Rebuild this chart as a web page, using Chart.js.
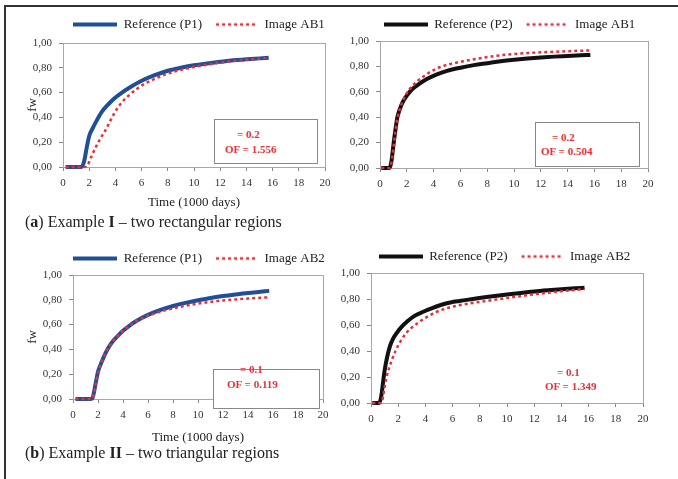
<!DOCTYPE html>
<html>
<head>
<meta charset="utf-8">
<script src="https://cdn.jsdelivr.net/npm/chart.js@4.4.0/dist/chart.umd.min.js"></script>
<style>
  body { margin: 0; width: 678px; height: 479px; background: #fff; position: relative; overflow: hidden; font-family: "Liberation Serif", serif; }
  .frame { position: absolute; left: 4px; top: 5px; width: 700px; height: 500px; border-left: 2px solid #333; border-top: 2px solid #333; }
  canvas { position: absolute; }
  .box { position: absolute; border: 1px solid #888; background: #fff; }
  .note { position: absolute; color: #e4323c; font-weight: bold; font-size: 11px; line-height: 12px; white-space: nowrap; }
  .caption { position: absolute; left: 25px; font-size: 16px; line-height: 18px; color: #222; white-space: nowrap; }
</style>
</head>
<body>
<div class="frame"></div>
<canvas id="chartA1" width="398" height="214" style="left:0;top:0"></canvas>
<canvas id="chartA2" width="339" height="190" style="left:340px;top:0"></canvas>
<canvas id="chartB1" width="398" height="217" style="left:0;top:232px"></canvas>
<canvas id="chartB2" width="329" height="200" style="left:340px;top:231px"></canvas>

<div class="box" style="left:214px;top:119px;width:102px;height:43px"></div>
<div class="note" style="left:237px;top:128px">= 0.2</div>
<div class="note" style="left:225px;top:143px">OF = 1.556</div>

<div class="box" style="left:535px;top:122px;width:103px;height:43px"></div>
<div class="note" style="left:552px;top:131px">= 0.2</div>
<div class="note" style="left:541px;top:145px">OF = 0.504</div>

<div class="box" style="left:213px;top:369px;width:105px;height:38px"></div>
<div class="note" style="left:240px;top:363px">= 0.1</div>
<div class="note" style="left:227px;top:378px">OF = 0.119</div>

<div class="note" style="left:557px;top:366px">= 0.1</div>
<div class="note" style="left:545px;top:380px">OF = 1.349</div>

<div class="caption" style="top:213px">(<b>a</b>) Example <b>I</b> – two rectangular regions</div>
<div class="caption" style="top:444px">(<b>b</b>) Example <b>II</b> – two triangular regions</div>

<script>
// ----- DATA -----
const xTickValues = [0, 2, 4, 6, 8, 10, 12, 14, 16, 18, 20];
const yTickValues = [0, 0.2, 0.4, 0.6, 0.8, 1.0];

// (a) left : Reference (P1) vs Image AB1
const timeRefA1 = [0.2, 0.6, 1.0, 1.4, 1.6, 1.8, 2.0, 2.3, 2.6, 3.0, 3.5, 4.0, 4.5, 5.0, 6.0, 7.0, 8.0, 9.0, 10.0, 11.0, 12.0, 13.0, 14.0, 15.0, 15.7];
const fwRefA1 = [0, 0, 0, 0, 0.04, 0.15, 0.25, 0.32, 0.38, 0.45, 0.51, 0.56, 0.60, 0.635, 0.695, 0.74, 0.776, 0.80, 0.82, 0.835, 0.848, 0.86, 0.868, 0.876, 0.882];
const timeImgA1 = [0.2, 0.6, 1.0, 1.4, 1.7, 1.9, 2.15, 2.5, 2.8, 3.2, 3.6, 3.9, 4.4, 5.0, 5.7, 6.3, 7.1, 7.9, 8.9, 9.9, 11, 12, 13, 14, 15, 15.7];
const fwImgA1 = [0, 0, 0, 0, 0, 0.02, 0.08, 0.16, 0.22, 0.29, 0.37, 0.43, 0.51, 0.575, 0.635, 0.675, 0.715, 0.75, 0.78, 0.805, 0.825, 0.842, 0.855, 0.865, 0.874, 0.88];

// (a) right : Reference (P2) vs Image AB1
const timeRefA2 = [0.1, 0.4, 0.7, 0.85, 1.0, 1.15, 1.3, 1.5, 1.75, 2.0, 2.4, 2.9, 3.5, 4.2, 5.0, 6.0, 7.0, 8.0, 9.0, 10, 11, 12, 13, 14, 15, 15.7];
const fwRefA2 = [0, 0, 0, 0.05, 0.18, 0.3, 0.4, 0.47, 0.53, 0.57, 0.62, 0.66, 0.70, 0.735, 0.765, 0.79, 0.81, 0.825, 0.84, 0.852, 0.862, 0.87, 0.877, 0.882, 0.887, 0.89];
const timeImgA2 = [0.1, 0.4, 0.7, 0.85, 1.0, 1.15, 1.3, 1.5, 1.75, 2.0, 2.4, 2.8, 3.3, 3.8, 4.5, 5.3, 6.2, 7.2, 8.3, 9.5, 11, 12.5, 14, 15.7];
const fwImgA2 = [0, 0, 0, 0.04, 0.16, 0.29, 0.39, 0.47, 0.54, 0.59, 0.645, 0.685, 0.725, 0.76, 0.795, 0.82, 0.84, 0.86, 0.878, 0.893, 0.905, 0.913, 0.92, 0.926];

// (b) left : Reference (P1) vs Image AB2
const timeRefB1 = [0.2, 0.6, 1.0, 1.4, 1.6, 1.8, 2.0, 2.3, 2.6, 3.0, 3.5, 4.0, 4.5, 5.0, 6.0, 7.0, 8.0, 9.0, 10.0, 11.0, 12.0, 13.0, 14.0, 15.0, 15.7];
const fwRefB1 = [0, 0, 0, 0, 0.02, 0.12, 0.22, 0.3, 0.37, 0.44, 0.5, 0.55, 0.59, 0.625, 0.678, 0.718, 0.75, 0.775, 0.797, 0.815, 0.83, 0.843, 0.855, 0.865, 0.872];
const timeImgB1 = [0.2, 0.6, 1.0, 1.4, 1.6, 1.8, 2.0, 2.3, 2.6, 3.0, 3.5, 4.0, 4.5, 5.0, 6.0, 7.0, 8.0, 9.0, 10.0, 11.0, 12.0, 13.0, 14.0, 15.0, 15.7];
const fwImgB1 = [0, 0, 0, 0, 0.02, 0.11, 0.21, 0.3, 0.37, 0.44, 0.5, 0.55, 0.59, 0.625, 0.672, 0.705, 0.73, 0.752, 0.77, 0.783, 0.795, 0.803, 0.81, 0.816, 0.82];

// (b) right : Reference (P2) vs Image AB2
const timeRefB2 = [0.1, 0.4, 0.6, 0.75, 0.9, 1.0, 1.2, 1.4, 1.6, 1.9, 2.2, 2.7, 3.2, 3.8, 4.5, 5.5, 6.5, 7.5, 8.5, 10, 11, 12, 13, 14, 15, 15.7];
const fwRefB2 = [0, 0, 0, 0.05, 0.17, 0.25, 0.36, 0.44, 0.49, 0.54, 0.58, 0.63, 0.67, 0.70, 0.73, 0.765, 0.785, 0.80, 0.815, 0.835, 0.847, 0.858, 0.867, 0.875, 0.882, 0.886];
const timeImgB2 = [0.1, 0.4, 0.7, 0.85, 1.0, 1.15, 1.3, 1.5, 1.8, 2.2, 2.6, 3.0, 3.5, 4.0, 4.8, 5.6, 6.5, 7.5, 8.5, 10, 11, 12, 13, 14, 15, 15.7];
const fwImgB2 = [0, 0, 0, 0.03, 0.12, 0.2, 0.26, 0.32, 0.4, 0.48, 0.54, 0.58, 0.62, 0.655, 0.7, 0.73, 0.752, 0.77, 0.785, 0.808, 0.822, 0.836, 0.848, 0.86, 0.87, 0.877];


// ----- STYLE -----
const SERIF = "'Liberation Serif', 'Times New Roman', serif";
const BLUE = "#1e4f97";
const BLACK = "#111111";
const RED = "#e4323c";

Chart.defaults.font.family = SERIF;

function pts(xs, ys) {
    return xs.map((x, i) => ({ x: x, y: ys[i] }));
}

// little line picture used as legend symbol (the built-in 'line' style ignores dashes)
function swatch(color, width, dash, len) {
    const c = document.createElement("canvas");
    c.width = 44;
    c.height = 8;
    const ctx = c.getContext("2d");
    ctx.strokeStyle = color;
    ctx.lineWidth = width;
    ctx.setLineDash(dash);
    ctx.beginPath();
    ctx.moveTo((44 - len) / 2, 4);
    ctx.lineTo((44 + len) / 2, 4);
    ctx.stroke();
    return c;
}

// legend box gets a fixed height so the plot areas line up with the picture
const fixedLegend = {
    id: "fixedLegend",
    beforeLayout(chart, args, opts) {
        const legend = chart.legend;
        if (!legend || legend._fixed) return;
        const fit = legend.fit;
        legend.fit = function () {
            fit.call(this);
            this.height = opts.height;
        };
        legend._fixed = true;
    }
};

// light grey box around the plot area
const plotFrame = {
    id: "plotFrame",
    beforeDatasetsDraw(chart) {
        const { ctx, chartArea: a } = chart;
        ctx.save();
        ctx.strokeStyle = "#a8a8a8";
        ctx.lineWidth = 1;
        ctx.strokeRect(Math.round(a.left) + 0.5, Math.round(a.top) + 0.5, Math.round(a.right - a.left), Math.round(a.bottom - a.top));
        ctx.restore();
    }
};


// ----- BUILD ONE PANEL -----
function buildChart(id, g, s) {
    return new Chart(document.getElementById(id), {
        type: "line",
        data: {
            datasets: [
                {
                    label: s.refName,
                    data: pts(s.refX, s.refY),
                    borderColor: s.refColor,
                    borderWidth: 4,
                    borderCapStyle: "butt",
                    pointRadius: 0,
                    pointStyle: swatch(s.refColor, 4, [], 44),
                    cubicInterpolationMode: "monotone",
                    clip: false,
                    order: 2
                },
                {
                    label: s.imgName,
                    data: pts(s.imgX, s.imgY),
                    borderColor: RED,
                    borderWidth: 2.5,
                    borderDash: [3, 3],
                    borderCapStyle: "butt",
                    pointRadius: 0,
                    pointStyle: swatch(RED, 2.5, [3, 3], 40),
                    cubicInterpolationMode: "monotone",
                    clip: false,
                    order: 1
                }
            ]
        },
        options: {
            responsive: false,
            animation: false,
            events: [],
            layout: { padding: { top: g.padTop, right: 0, left: 0, bottom: 0 } },
            plugins: {
                tooltip: { enabled: false },
                fixedLegend: { height: g.legendH },
                legend: {
                    position: "top",
                    labels: {
                        usePointStyle: true,
                        pointStyleWidth: 44,
                        padding: 12,
                        color: "#222",
                        font: { family: SERIF, size: 13 },
                        sort: (a, b) => a.datasetIndex - b.datasetIndex
                    }
                }
            },
            scales: {
                x: {
                    type: "linear",
                    min: 0,
                    max: 20,
                    afterBuildTicks: sc => { sc.ticks = xTickValues.map(v => ({ value: v })); },
                    afterFit: sc => { sc.height = g.xHeight; },
                    ticks: { color: "#333", padding: 6, font: { size: 11 } },
                    grid: { drawOnChartArea: false, drawTicks: true, tickLength: 4, color: "#888" },
                    border: { color: "#a8a8a8" },
                    title: { display: g.titles, text: "Time (1000 days)", color: "#222", font: { size: 13 }, padding: 4 }
                },
                y: {
                    min: 0,
                    max: 1,
                    afterBuildTicks: sc => { sc.ticks = yTickValues.map(v => ({ value: v })); },
                    afterFit: sc => { sc.width = g.yWidth; },
                    ticks: { color: "#333", padding: 7, font: { size: 11 }, callback: v => v.toFixed(2).replace(".", ",") },
                    grid: { drawOnChartArea: false, drawTicks: true, tickLength: 4, color: "#888" },
                    border: { color: "#a8a8a8" },
                    title: { display: g.titles, text: "fw", color: "#222", font: { size: 13 }, padding: { top: 25, bottom: 0 } }
                },
                // empty right axis: only keeps room on the right so the legend stays centred like the picture
                spacer: {
                    position: "right",
                    afterFit: sc => { sc.width = g.rightW; },
                    ticks: { display: false },
                    grid: { display: false },
                    border: { display: false }
                }
            }
        },
        plugins: [fixedLegend, plotFrame]
    });
}


// ----- THE FOUR PANELS -----
buildChart("chartA1",
    { padTop: 6, legendH: 37, yWidth: 63, rightW: 73, xHeight: 47, titles: true },
    { refName: "Reference (P1)", refColor: BLUE, refX: timeRefA1, refY: fwRefA1, imgName: "Image AB1", imgX: timeImgA1, imgY: fwImgA1 });

buildChart("chartA2",
    { padTop: 6, legendH: 35, yWidth: 40, rightW: 31, xHeight: 22, titles: false },
    { refName: "Reference (P2)", refColor: BLACK, refX: timeRefA2, refY: fwRefA2, imgName: "Image AB1", imgX: timeImgA2, imgY: fwImgA2 });

buildChart("chartB1",
    { padTop: 8, legendH: 35, yWidth: 73, rightW: 75, xHeight: 50, titles: true },
    { refName: "Reference (P1)", refColor: BLUE, refX: timeRefB1, refY: fwRefB1, imgName: "Image AB2", imgX: timeImgB1, imgY: fwImgB1 });

buildChart("chartB2",
    { padTop: 7, legendH: 35, yWidth: 31, rightW: 26, xHeight: 28, titles: false },
    { refName: "Reference (P2)", refColor: BLACK, refX: timeRefB2, refY: fwRefB2, imgName: "Image AB2", imgX: timeImgB2, imgY: fwImgB2 });
</script>
</body>
</html>
